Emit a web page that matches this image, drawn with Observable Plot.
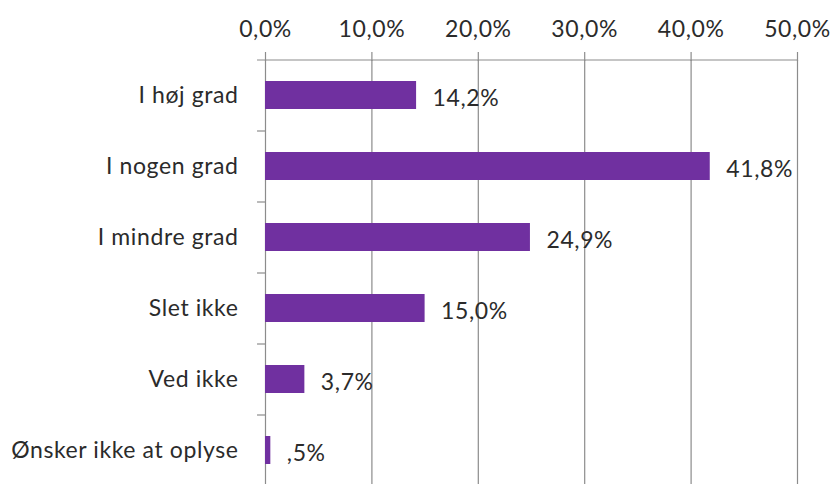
<!DOCTYPE html>
<html>
<head>
<meta charset="utf-8">
<script src="https://cdn.jsdelivr.net/npm/d3@7"></script>
<script src="https://cdn.jsdelivr.net/npm/@observablehq/plot@0.6"></script>
<style>
  html, body { margin: 0; padding: 0; background: #fff; overflow: hidden; }
  #chart { width: 831px; height: 484px; }
</style>
</head>
<body>
<div id="chart"></div>
<script>
const categories = ["I høj grad", "I nogen grad", "I mindre grad", "Slet ikke", "Ved ikke", "Ønsker ikke at oplyse"];
const values = [14.2, 41.8, 24.9, 15.0, 3.7, 0.5];
const valueLabels = ["14,2%", "41,8%", "24,9%", "15,0%", "3,7%", ",5%"];
const xTicks = [0, 10, 20, 30, 40, 50];

const data = categories.map((c, i) => ({category: c, value: values[i], label: valueLabels[i]}));
const yTop = 60, yBottom = 486;
const step = (yBottom - yTop) / categories.length;
const gridColor = "#8c8c8c";
const textColor = "#2b2b2b";
const fs = 23;
const fmt = d => d.toFixed(1).replace(".", ",") + "%";

const chart = Plot.plot({
  width: 831,
  height: 484,
  marginLeft: 265,
  marginRight: 34,
  marginTop: yTop,
  marginBottom: 0,
  style: {fontFamily: "Lato, sans-serif", fontSize: fs + "px", color: textColor, background: "#fff", letterSpacing: "0.6px"},
  x: {domain: [0, 50], ticks: xTicks, range: [265, 797]},
  y: {domain: categories, range: [yTop, yBottom], paddingInner: 0.6, paddingOuter: 0.3, align: 0.5},
  marks: [
    Plot.ruleX(xTicks, {stroke: gridColor, strokeWidth: 1.2}),
    Plot.ruleY(categories, {y: d => d, dy: -step / 2, x1: -0.75, x2: 50, stroke: gridColor, strokeWidth: 1.2, filter: (d, i) => i === 0}),
    Plot.ruleY(categories, {y: d => d, dy: -step / 2, x1: -0.75, x2: 0, stroke: gridColor, strokeWidth: 1.2, filter: (d, i) => i > 0}),
    Plot.axisX({anchor: "top", ticks: xTicks, tickFormat: fmt, tickSize: 9, tickPadding: 15, stroke: gridColor, strokeWidth: 1.2, strokeOpacity: 1, fontSize: fs, fill: textColor, label: null}),
    Plot.axisY({tickSize: 0, tickPadding: 27, fontSize: fs, fill: textColor, label: null}),
    Plot.barX(data, {y: "category", x: "value", fill: "#7030A0"}),
    Plot.text(data, {y: "category", x: "value", text: "label", textAnchor: "start", dx: 16, dy: 3, fontSize: fs, fill: textColor})
  ]
});
document.getElementById("chart").appendChild(chart);
</script>
</body>
</html>
